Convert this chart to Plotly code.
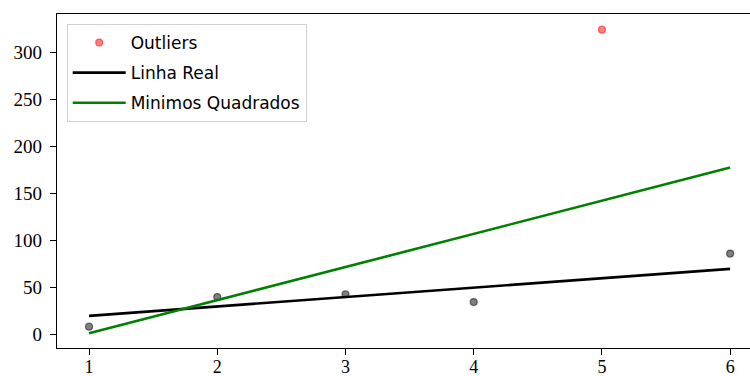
import plotly.graph_objects as go

# Observed samples (regular points)
x_points = [1, 2, 3, 4, 6]
y_points = [8.5, 40, 43, 34.7, 86.3]

# Outlier sample
x_outlier = [5]
y_outlier = [324.5]

# Reference line and least-squares fit evaluated at each x
x_line = [1, 2, 3, 4, 5, 6]
y_real = [20, 30, 40, 50, 60, 70]
y_lsq = [1.4, 36.7, 72.0, 107.2, 142.5, 177.8]

x_ticks = [1, 2, 3, 4, 5, 6]
y_ticks = [0, 50, 100, 150, 200, 250, 300]

fig = go.Figure()

fig.add_trace(go.Scatter(
    x=x_points, y=y_points, mode="markers", showlegend=False,
    marker=dict(size=7, color="rgba(0,0,0,0.5)",
                line=dict(color="rgba(0,0,0,0.5)", width=1.2)),
))
fig.add_trace(go.Scatter(
    x=x_outlier, y=y_outlier, mode="markers", name="Outliers", legendgroup="g1",
    marker=dict(size=7, color="rgba(255,0,0,0.5)",
                line=dict(color="rgba(255,0,0,0.5)", width=1.2)),
))
fig.add_trace(go.Scatter(
    x=x_line, y=y_real, mode="lines", name="Linha Real", legendgroup="g2",
    line=dict(color="black", width=2.6),
))
fig.add_trace(go.Scatter(
    x=x_line, y=y_lsq, mode="lines", name="Minimos Quadrados", legendgroup="g3",
    line=dict(color="green", width=2.6),
))

tick_font = dict(family="Liberation Serif, DejaVu Serif, serif", size=19, color="black")
xtick_font = dict(family="Liberation Serif, DejaVu Serif, serif", size=18, color="black")

fig.update_layout(
    width=750, height=376,
    margin=dict(l=57, r=0, t=14, b=28, autoexpand=False),
    paper_bgcolor="white", plot_bgcolor="white",
    showlegend=True,
    legend=dict(
        x=0.014, y=0.97, xanchor="left", yanchor="top",
        bgcolor="white", bordercolor="#d0d0d0", borderwidth=1,
        font=dict(family="DejaVu Sans, sans-serif", size=17, color="black"),
        tracegroupgap=5, itemwidth=53,
    ),
    xaxis=dict(
        range=[0.75, 6.155], tickvals=x_ticks, ticktext=[str(v) for v in x_ticks],
        showgrid=False, zeroline=False, automargin=False,
        showline=True, linecolor="black", linewidth=1.3, mirror=True,
        ticks="outside", ticklen=6, tickwidth=1.2, tickcolor="black",
        tickfont=xtick_font, ticklabelstandoff=-4,
    ),
    yaxis=dict(
        range=[-14.2, 341.2], tickvals=y_ticks, ticktext=[str(v) for v in y_ticks],
        showgrid=False, zeroline=False, automargin=False,
        showline=True, linecolor="black", linewidth=1.3, mirror=False,
        ticks="outside", ticklen=6, tickwidth=1.2, tickcolor="black",
        tickfont=tick_font, ticklabelstandoff=4,
    ),
)

fig.write_html("out.html")
